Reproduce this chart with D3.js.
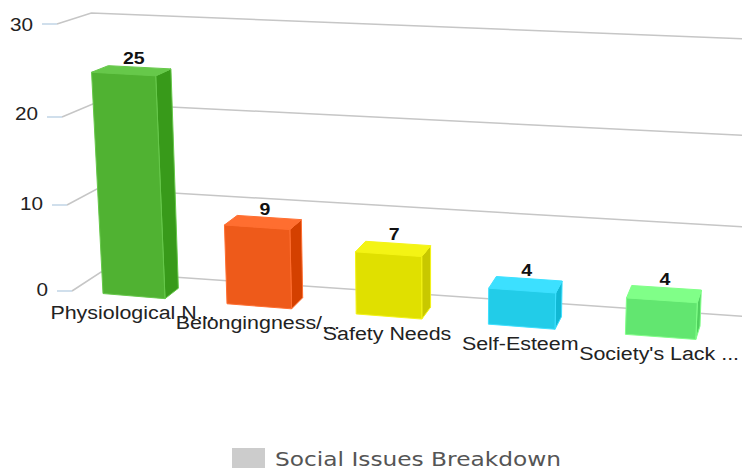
<!DOCTYPE html>
<html>
<head>
<meta charset="utf-8">
<script src="https://cdn.jsdelivr.net/npm/d3@7"></script>
<style>
  html, body { margin: 0; padding: 0; background: #fff; }
  svg { display: block; }
  text { font-family: "Liberation Sans", Arial, sans-serif; }
</style>
</head>
<body>
<svg id="chart" width="742" height="468"></svg>
<script>
const categories = ["Physiological N...", "Belongingness/...", "Safety Needs", "Self-Esteem", "Society's Lack ..."];
const values = [25, 9, 7, 4, 4];
const yTicks = [0, 10, 20, 30];
const frontColors = ["#50b232", "#ee5a1a", "#e0e000", "#22cce8", "#62e670"];
const sideColors = ["#389a1a", "#d44000", "#c8c800", "#10b8d4", "#50d05e"];
const topColors = ["#66c84a", "#ff6e30", "#f4f414", "#3ce0ff", "#80ff88"];
const legendLabel = "Social Issues Breakdown";

const svg = d3.select("#chart");

// u runs along the floor (0-1), depth runs front to back (0-1)
const band = d3.scaleBand().domain(categories).range([0, 1]).paddingInner(0.5).paddingOuter(0.25);
const rise = d3.scaleLinear().domain(yTicks).range([0, 86, 174, 267]);
const tickLabelY = d3.scaleLinear().domain(yTicks).range([296, 210, 120, 31]);
const floorX = d3.scaleLinear().domain([0, 0.25, 0.5, 0.75, 1]).range([72, 227, 388.5, 555, 731]);
const floorY = d3.scaleLinear().domain([0, 1]).range([291, 342]);
const depthX = d3.scaleLinear().domain([0, 1]).range([29, 7]);
const depthY = d3.scaleLinear().domain([0, 1]).range([19, 26]);

// fake perspective, fitted by eye to the reference
function project(u, v, d) {
  const x0 = floorX(u) + depthX(u) * d;
  const y0 = floorY(u) - depthY(u) * d;
  const h = rise(v) * (1 + 0.07 * u) * (1 - 0.03 * d);
  return [x0 + (x0 - 430) * 0.0014 * v * (1 - 0.3 * d), y0 - h];
}

// text in the reference is stretched sideways
function stretched(sel, x, y, sx) {
  return sel.attr("transform", `translate(${x},${y}) scale(${sx},1)`);
}

const line = d3.line();

// gridlines
const grid = svg.append("g");
yTicks.forEach((t) => {
  const front = project(0, t, 0);
  grid.append("path")
    .attr("d", line([front, project(0, t, 1), project(1.02, t, 1)]))
    .attr("fill", "none")
    .attr("stroke", "#c6c6c6")
    .attr("stroke-width", 1.5);
  grid.append("line")
    .attr("x1", front[0] - 15).attr("x2", front[0])
    .attr("y1", front[1]).attr("y2", front[1])
    .attr("stroke", "#c0d4e6")
    .attr("stroke-width", 1.5);
  stretched(grid.append("text"), front[0] - 24, tickLabelY(t), 1.15)
    .attr("text-anchor", "end")
    .attr("font-size", 18)
    .attr("fill", "#222")
    .text(t);
});

// bars
const barDepth = 0.52;
categories.forEach((c, i) => {
  const u0 = band(c);
  const u1 = u0 + band.bandwidth();
  const v = values[i];
  const g = svg.append("g").attr("stroke-width", 1).attr("stroke-linejoin", "round");
  const face = (pts, fill) => g.append("path")
    .attr("d", line(pts) + "Z")
    .attr("fill", fill)
    .attr("stroke", topColors[i]);
  face([project(u1, 0, 0), project(u1, 0, barDepth), project(u1, v, barDepth), project(u1, v, 0)], sideColors[i]);
  face([project(u0, v, 0), project(u1, v, 0), project(u1, v, barDepth), project(u0, v, barDepth)], topColors[i]);
  face([project(u0, 0, 0), project(u1, 0, 0), project(u1, v, 0), project(u0, v, 0)], frontColors[i]);
});

// value labels
categories.forEach((c, i) => {
  const uc = band(c) + band.bandwidth() / 2;
  const x = project(uc, values[i], 0.33)[0];
  const y = project(uc, values[i], barDepth)[1] - 3;
  stretched(svg.append("text"), x, y, 1.15)
    .attr("text-anchor", "middle")
    .attr("font-size", 17)
    .attr("font-weight", "bold")
    .attr("fill", "#111")
    .text(values[i]);
});

// category labels
categories.forEach((c) => {
  const uc = band(c) + band.bandwidth() / 2;
  const p = project(uc, 0, 0);
  stretched(svg.append("text"), p[0] - 1.5, p[1] + 23, 1.19)
    .attr("text-anchor", "middle")
    .attr("font-size", 18)
    .attr("fill", "#222")
    .text(c);
});

// legend
svg.append("rect")
  .attr("x", 232).attr("y", 448)
  .attr("width", 33).attr("height", 20)
  .attr("fill", "#cccccc");
svg.append("text")
  .attr("x", 275).attr("y", 466)
  .attr("font-size", 20)
  .attr("fill", "#555")
  .attr("textLength", 286)
  .attr("lengthAdjust", "spacingAndGlyphs")
  .style("font-family", "'DejaVu Sans', sans-serif")
  .text(legendLabel);
</script>
</body>
</html>
